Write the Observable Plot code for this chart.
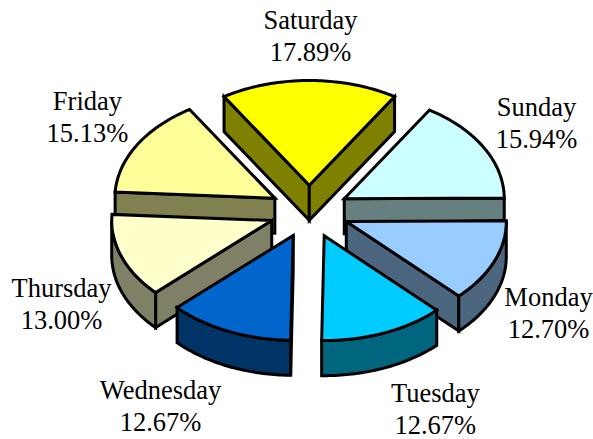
<!DOCTYPE html>
<html>
<head>
<meta charset="utf-8">
<script src="https://cdn.jsdelivr.net/npm/d3@7"></script>
<script src="https://cdn.jsdelivr.net/npm/@observablehq/plot@0.6"></script>
<style>html,body{margin:0;padding:0;background:#fff}svg{display:block}</style>
</head>
<body>
<div id="chart"></div>
<script>
// Data, clockwise from the start of the Saturday slice
const days   = ["Saturday", "Sunday", "Monday", "Tuesday", "Wednesday", "Thursday", "Friday"];
const shares = [17.89, 15.94, 12.70, 12.67, 12.67, 13.00, 15.13];

// Styles
const topColors  = ["#FFFF00", "#CCFFFF", "#99CCFF", "#00CCFF", "#0066CC", "#FFFFCC", "#FFFF99"];
const sideColors = ["#808000", "#668080", "#4D6680", "#006680", "#003366", "#808066", "#808050"];

// Layout, in pie radii
const tilt = 0.655, explode = 0.25, depth = 0.219;
const labelX = [0.0075, 1.42, 1.495, 0.7875, -0.93, -1.5488, -1.3865];
const labelY = [1.1065, 0.5628, -0.6248, -1.2248, -1.206, -0.5685, 0.6003];
const drawOrder = [0, 6, 1, 5, 2, 4, 3];

const width = 593, height = 439, pxPerRadius = 160, cx = 308.8, cy = 211;
const rad = (d) => d * Math.PI / 180;

let angle = -shares[0] * 1.8;
const slices = days.map((day, i) => {
  const a0 = angle, a1 = angle + shares[i] * 3.6;
  angle = a1;
  const mid = rad((a0 + a1) / 2);
  return {day, a0, a1, i, ox: explode * Math.sin(mid), oy: explode * tilt * Math.cos(mid)};
});

const rim = (s, a, drop = 0) => ({
  x: s.ox + Math.sin(rad(a)),
  y: s.oy + tilt * Math.cos(rad(a)) - drop
});
const apex = (s, drop = 0) => ({x: s.ox, y: s.oy - drop});
const arcPts = (s, from, to, drop = 0) => {
  const n = Math.max(1, Math.ceil(Math.abs(to - from)));
  return d3.range(n + 1).map((k) => rim(s, from + (to - from) * k / n, drop));
};
const face = (pts, fill) =>
  Plot.line([...pts, pts[0], pts[1]], {
    x: "x", y: "y", fill, stroke: "#000", strokeWidth: 3,
    strokeLinejoin: "miter", strokeMiterlimit: 3, curve: "linear"
  });

const marks = [];
for (const i of drawOrder) {
  const s = slices[i], side = sideColors[i];
  // radial wall on the clockwise start, if it faces the viewer
  if (Math.sin(rad(s.a0)) < -1e-6)
    marks.push(face([apex(s), rim(s, s.a0), rim(s, s.a0, depth), apex(s, depth)], side));
  // radial wall on the clockwise end, if it faces the viewer
  if (Math.sin(rad(s.a1)) > 1e-6)
    marks.push(face([apex(s), rim(s, s.a1), rim(s, s.a1, depth), apex(s, depth)], side));
  // outer wall: only the front half of the rim is visible
  const from = Math.max(s.a0, 90), to = Math.min(s.a1, 270);
  if (to > from)
    marks.push(face([...arcPts(s, from, to), ...arcPts(s, to, from, depth)], side));
  // top face
  marks.push(face([apex(s), ...arcPts(s, s.a0, s.a1)], topColors[i]));
}

const labels = days.map((d, i) => ({
  text: `${d}\n${shares[i].toFixed(2)}%`, x: labelX[i], y: labelY[i]
}));
marks.push(Plot.text(labels, {
  x: "x", y: "y", text: "text", fill: "#000", stroke: "none",
  fontFamily: "Liberation Serif", fontSize: 26.5, lineHeight: 1.24,
  textAnchor: "middle", lineAnchor: "middle"
}));

const chart = Plot.plot({
  width, height, margin: 0,
  x: {axis: null, domain: [-cx / pxPerRadius, (width - cx) / pxPerRadius], range: [0, width]},
  y: {axis: null, domain: [-(height - cy) / pxPerRadius, cy / pxPerRadius], range: [height, 0]},
  marks
});
document.getElementById("chart").append(chart);
</script>
</body>
</html>
